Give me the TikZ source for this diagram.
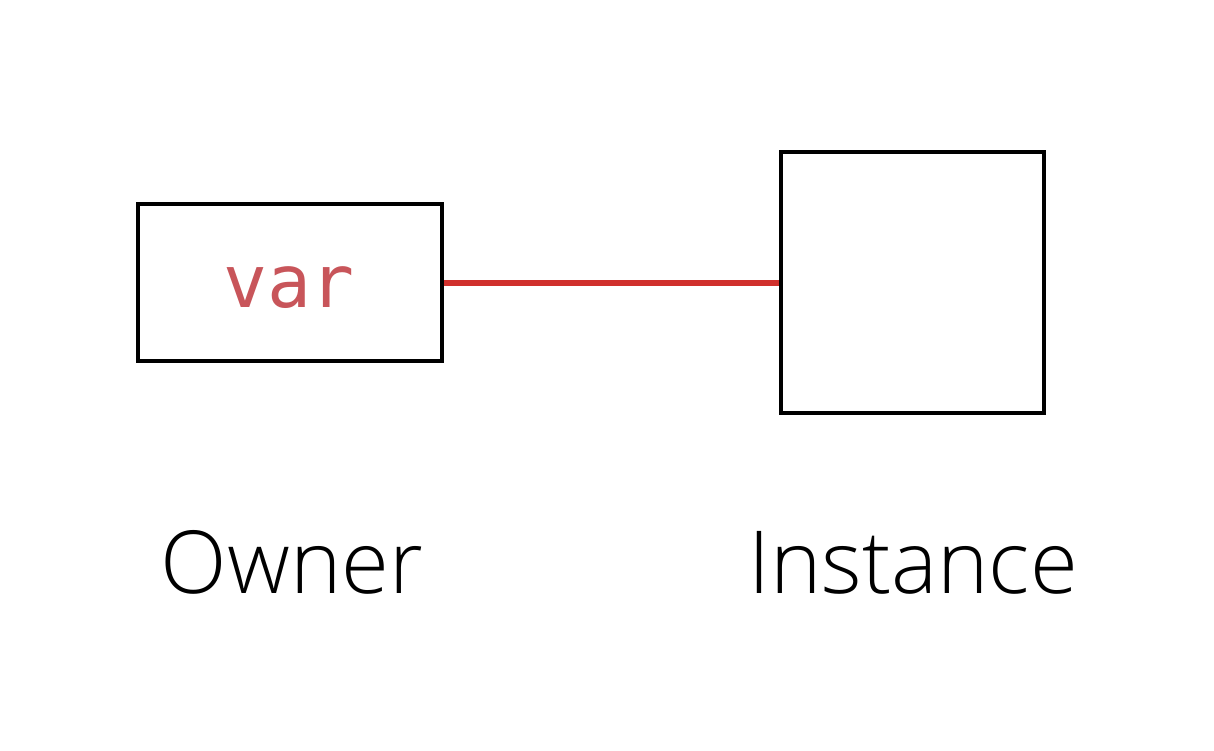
\documentclass[tikz,border=0pt]{standalone}
\usepackage{fontspec}
\newfontfamily\labelfont{Open Sans Light}
\newfontfamily\codefont{DejaVu Sans Mono}
\definecolor{linkred}{HTML}{D0302C}
\definecolor{varred}{HTML}{C8555A}
\begin{document}
\begin{tikzpicture}[x=1pt,y=1pt,
  box/.style={draw=black,line width=4pt,inner sep=0pt},
  lbl/.style={font=\labelfont\fontsize{87}{87}\selectfont,anchor=base,inner sep=0pt},
  link/.style={draw=linkred,line width=6pt}]
\useasboundingbox (0,0) rectangle (1214,750);
\fill[white] (0,0) rectangle (1214,750);
\node[box,minimum width=304pt,minimum height=157pt] (owner) at (290,467.5) {};
\node[box,minimum width=263pt,minimum height=261pt] (inst) at (912.5,467.5) {};
\node[font=\codefont\fontsize{73}{73}\selectfont,text=varred,anchor=base,inner sep=0pt] (var) at (289,442) {var};
\draw[link] (owner.east |- 0,467) -- (inst.west |- 0,467);
\node[lbl] (ownerlbl) at (292,157) {Owner};
\node[lbl] (instlbl) at (913,157) {Instance};
\end{tikzpicture}
\end{document}
